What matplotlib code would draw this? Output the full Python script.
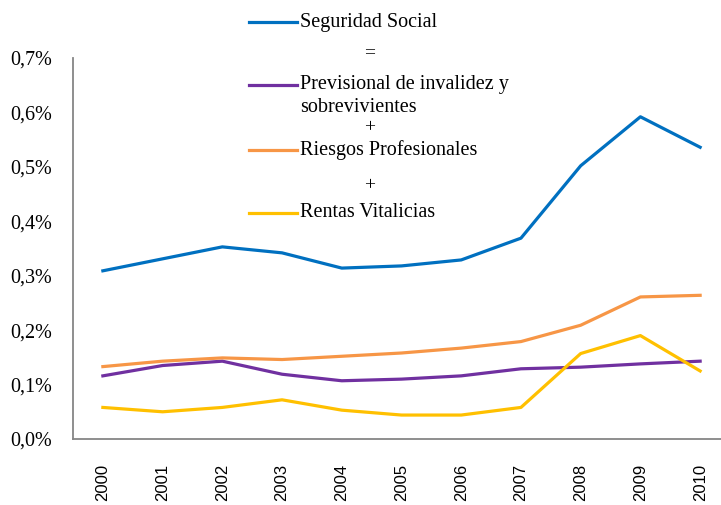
import numpy as np
import matplotlib
matplotlib.use("Agg")
import matplotlib.pyplot as plt
from matplotlib.lines import Line2D
from matplotlib.ticker import FuncFormatter

years = ["2000", "2001", "2002", "2003", "2004", "2005",
         "2006", "2007", "2008", "2009", "2010"]
seguridad = [0.309, 0.331, 0.353, 0.342, 0.314, 0.318, 0.329, 0.369, 0.502, 0.592, 0.536]
previsional = [0.116, 0.135, 0.143, 0.119, 0.107, 0.110, 0.116, 0.129, 0.132, 0.138, 0.143]
riesgos = [0.133, 0.143, 0.149, 0.146, 0.152, 0.158, 0.167, 0.179, 0.209, 0.261, 0.264]
rentas = [0.058, 0.050, 0.058, 0.072, 0.053, 0.044, 0.044, 0.058, 0.157, 0.190, 0.125]

c_blue = "#0070C0"
c_purple = "#7030A0"
c_orange = "#F79646"
c_yellow = "#FFC000"
serif = "Liberation Serif"

fig = plt.figure(figsize=(7.21, 5.05), dpi=100)
ax = fig.add_axes([73 / 721, 66 / 505, 657 / 721, 381 / 505])

x = np.arange(len(years))
lw = 2.3
ax.plot(x, seguridad, color=c_blue, lw=lw, clip_on=False)
ax.plot(x, previsional, color=c_purple, lw=lw, clip_on=False)
ax.plot(x, riesgos, color=c_orange, lw=lw, clip_on=False)
ax.plot(x, rentas, color=c_yellow, lw=lw, clip_on=False)

ax.set_xlim(-0.5, len(years) - 0.5)
ax.set_ylim(0, 0.7)
ax.set_yticks(np.arange(0, 0.71, 0.1))
ax.yaxis.set_major_formatter(FuncFormatter(lambda v, p: f"{v:.1f}%".replace(".", ",")))
ax.set_xticks(x)
ax.set_xticklabels(years, rotation=90, family="Liberation Sans", fontsize=12)
for lab in ax.get_yticklabels():
    lab.set_family(serif)
    lab.set_fontsize(14.5)
ax.tick_params(axis="both", length=0)
ax.tick_params(axis="y", pad=15)
ax.tick_params(axis="x", pad=18)

for s in ["top", "right"]:
    ax.spines[s].set_visible(False)
for s in ["left", "bottom"]:
    ax.spines[s].set_color("#868686")
    ax.spines[s].set_linewidth(1.3)

# hand-built legend
W, H = 721, 505
def fx(px):
    return px / W
def fy(py):
    return 1 - py / H

entries = [
    (22, c_blue, "Seguridad Social"),
    (85, c_purple, "Previsional de invalidez y"),
    (150, c_orange, "Riesgos Profesionales"),
    (213, c_yellow, "Rentas Vitalicias"),
]
for py, col, txt in entries:
    fig.add_artist(Line2D([fx(249), fx(297)], [fy(py), fy(py)], color=col, lw=2.3,
                          transform=fig.transFigure))
    fig.text(fx(300), fy(py), txt, family=serif, fontsize=14.5, va="center", ha="left")
fig.text(fx(300), fy(108), "sobrevivientes", family=serif, fontsize=14.5, va="center", ha="left")

for py, sym in [(53, "="), (128, "+"), (186, "+")]:
    fig.text(fx(370), fy(py), sym, family=serif, fontsize=14, ha="center", va="center")

fig.savefig("out.png", dpi=100)
